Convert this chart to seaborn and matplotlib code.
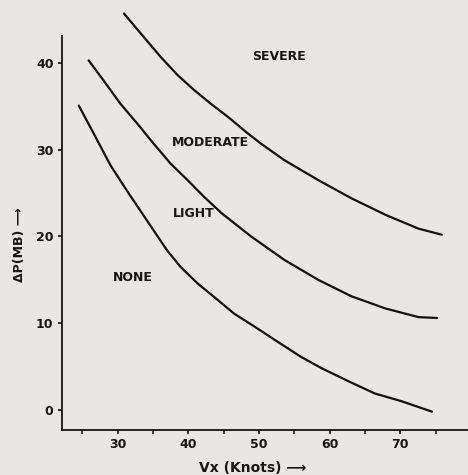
import pandas as pd
import matplotlib.pyplot as plt
import seaborn as sns

# Boundary curves: Vx (knots) vs delta P (mb)
severe_vx = [30.9, 33.7, 36.1, 38.5, 40.8, 43.2, 45.6, 48.4, 50.3, 53.6,
             58.4, 63.1, 67.9, 72.6, 75.9]
severe_dp = [45.7, 43.0, 40.7, 38.6, 36.9, 35.3, 33.8, 31.9, 30.7, 28.8,
             26.5, 24.4, 22.5, 20.9, 20.2]

moderate_vx = [25.9, 28.0, 30.4, 32.8, 35.1, 37.5, 39.9, 42.2, 44.7, 48.9,
               53.6, 58.4, 63.1, 67.9, 72.6, 75.2]
moderate_dp = [40.3, 38.0, 35.3, 33.0, 30.7, 28.4, 26.5, 24.6, 22.7, 20.0,
               17.3, 15.0, 13.1, 11.7, 10.7, 10.6]

light_vx = [24.5, 26.6, 29.0, 31.3, 33.2, 35.1, 37.0, 38.9, 41.3, 43.7,
            46.5, 49.4, 52.2, 56.0, 58.9, 62.7, 66.4, 70.2, 74.5]
light_dp = [35.1, 31.9, 28.2, 25.3, 23.0, 20.7, 18.4, 16.5, 14.6, 13.0,
            11.1, 9.6, 8.1, 6.1, 4.8, 3.3, 1.9, 1.0, -0.2]

zone_names = ['SEVERE', 'MODERATE', 'LIGHT', 'NONE']
zone_vx = [52.9, 43.1, 40.8, 32.1]
zone_dp = [40.7, 30.8, 22.7, 15.3]

x_ticks = [30, 40, 50, 60, 70]
y_ticks = [0, 10, 20, 30, 40]

frames = []
for name, vx, dp in [('severe', severe_vx, severe_dp),
                     ('moderate', moderate_vx, moderate_dp),
                     ('light', light_vx, light_dp)]:
    frames.append(pd.DataFrame({'vx': vx, 'dp': dp, 'curve': name}))
df = pd.concat(frames, ignore_index=True)

sns.set_style('ticks')
plt.rcParams['font.family'] = ['DejaVu Sans']
paper = '#e8e7e3'
ink = '#151515'

fig = plt.figure(figsize=(4.68, 4.75), dpi=100, facecolor=paper)
ax = fig.add_axes([0.132, 0.095, 0.868, 0.829])
ax.set_facecolor(paper)

sns.lineplot(data=df, x='vx', y='dp', units='curve', estimator=None,
             color='#111111', linewidth=1.6, sort=False, ax=ax, clip_on=False)

for name, x, y in zip(zone_names, zone_vx, zone_dp):
    ax.text(x, y, name, ha='center', va='center', fontsize=9,
            fontweight='bold', color=ink)

ax.set_xlim(22.1, 79.6)
ax.set_ylim(-2.3, 43.1)
ax.set_xticks(x_ticks)
ax.set_xticks([25, 35, 45, 55, 65, 75], minor=True)
ax.set_yticks(y_ticks)
ax.tick_params(axis='both', labelsize=9, colors=ink, width=1.2,
               length=3, pad=3)
ax.tick_params(axis='x', which='minor', length=3, width=1.2)
for lab in ax.get_xticklabels() + ax.get_yticklabels():
    lab.set_fontweight('bold')

ax.set_xlabel('Vx (Knots) \u27f6', fontsize=10, fontweight='bold', color=ink)
ax.set_ylabel('\u0394P(MB) \u27f6', fontsize=9, fontweight='bold', color=ink)
ax.xaxis.set_label_coords(0.47, -0.097)
ax.xaxis.label.set_va('center')
ax.yaxis.set_label_coords(-0.103, 0.47)
ax.yaxis.label.set_va('center')

for side in ['top', 'right']:
    ax.spines[side].set_visible(False)
for side in ['left', 'bottom']:
    ax.spines[side].set_linewidth(1.3)
    ax.spines[side].set_color(ink)

plt.savefig('out.png', dpi=100, facecolor=paper)
